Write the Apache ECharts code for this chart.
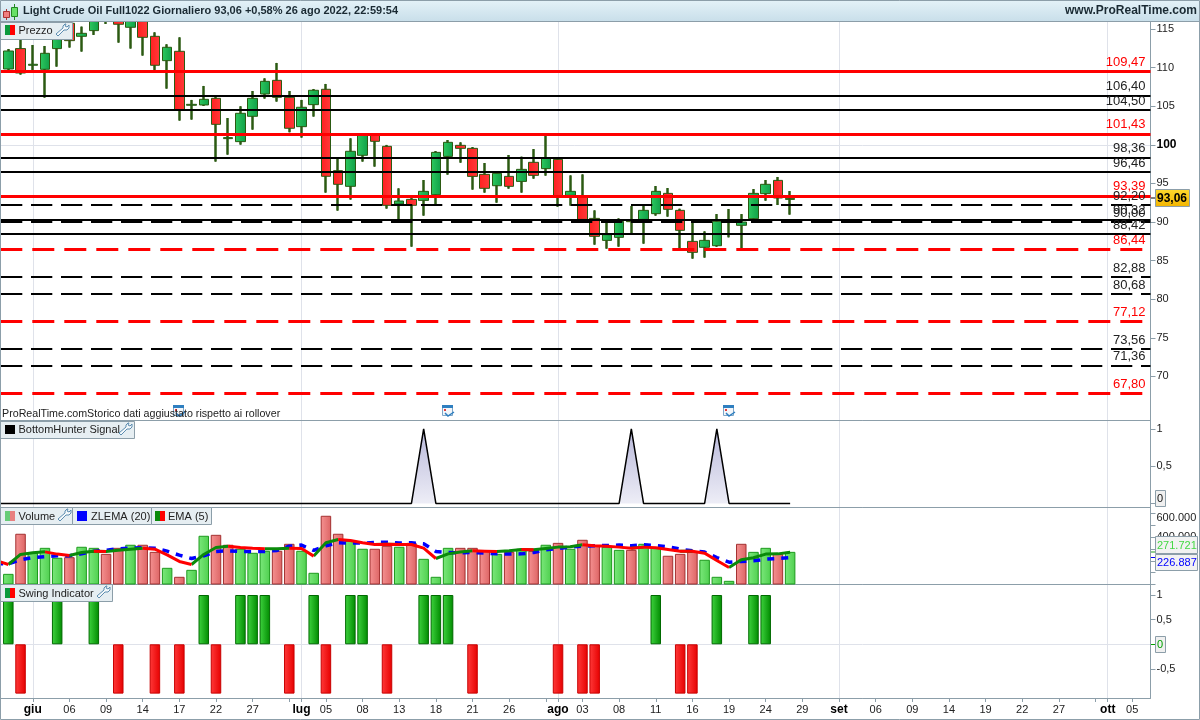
<!DOCTYPE html>
<html>
<head>
<meta charset="utf-8">
<title>Light Crude Oil</title>
<script src="https://cdn.jsdelivr.net/npm/echarts@6/dist/echarts.min.js"></script>
<style>
  html, body { margin: 0; padding: 0; background: #fff; }
  #chart { width: 1200px; height: 720px; }
</style>
</head>
<body>
<div id="chart"></div>
<script>
// trading days, first one sits just off the left edge
var days = [
  '27/05',
  '30/05','31/05','01/06','02/06','03/06','06/06','07/06','08/06','09/06','10/06',
  '13/06','14/06','15/06','16/06','17/06','20/06','21/06','22/06','23/06','24/06',
  '27/06','28/06','29/06','30/06','01/07','04/07','05/07','06/07','07/07','08/07',
  '11/07','12/07','13/07','14/07','15/07','18/07','19/07','20/07','21/07','22/07',
  '25/07','26/07','27/07','28/07','29/07','01/08','02/08','03/08','04/08','05/08',
  '08/08','09/08','10/08','11/08','12/08','15/08','16/08','17/08','18/08','19/08',
  '22/08','23/08','24/08','25/08','26/08','29/08','30/08','31/08','01/09','02/09',
  '05/09','06/09','07/09','08/09','09/09','12/09','13/09','14/09','15/09','16/09',
  '19/09','20/09','21/09','22/09','23/09','26/09','27/09','28/09','29/09','30/09',
  '03/10','04/10','05/10','06/10'
];
var tickDays = ['01/06','06/06','09/06','14/06','17/06','22/06','27/06','30/06','01/07','05/07','08/07','13/07','18/07','21/07','26/07','29/07','01/08','03/08','08/08','11/08','16/08','19/08','24/08','29/08','01/09','06/09','09/09','14/09','19/09','22/09','27/09','30/09','03/10','05/10'];
var tickNames = ['giu','06','09','14','17','22','27','','lug','05','08','13','18','21','26','','ago','03','08','11','16','19','24','29','set','06','09','14','19','22','27','','ott','05'];
var monthDays = ['01/06','01/07','01/08','01/09','03/10'];

// open, close, low, high
var candles = [
  [109.82,112.15,109.69,112.41],[112.46,109.30,109.09,113.79],[110.30,110.43,109.61,112.93],[109.78,111.85,106.11,112.80],
  [112.46,114.10,110.12,115.74],[115.74,113.49,112.59,116.17],[114.05,114.44,112.07,115.31],[114.79,116.60,114.23,117.03],
  [116.17,116.39,115.65,117.46],[116.60,115.61,113.23,117.46],[115.22,116.60,112.46,117.03],[116.17,113.92,111.55,116.39],
  [114.05,110.30,109.69,114.57],[110.90,112.63,107.27,113.02],[112.11,104.47,103.13,113.92],[105.12,105.24,103.26,105.81],
  [105.16,105.89,105.03,107.62],[106.02,102.65,97.82,106.19],[100.80,100.93,98.72,103.47],[100.41,104.08,100.02,104.99],
  [103.69,106.02,101.96,106.97],[106.58,108.22,105.98,108.61],[108.35,106.15,105.59,110.60],[106.15,102.14,101.62,106.97],
  [102.35,104.86,100.93,105.81],[105.20,107.06,103.65,107.23],[107.19,95.92,93.80,107.88],[96.65,94.88,91.47,98.38],
  [94.62,99.16,92.90,100.84],[98.64,101.23,97.82,101.49],[101.23,100.45,97.17,101.49],[99.80,92.16,91.73,99.98],
  [92.33,92.72,90.26,94.36],[92.93,92.16,86.80,93.19],[92.80,93.97,90.82,95.44],[93.54,99.02,92.29,99.19],
  [98.50,100.32,96.13,100.62],[99.93,99.54,97.68,100.32],[99.54,95.91,94.19,99.71],[96.17,94.36,93.80,97.64],
  [94.70,96.30,92.50,96.30],[95.91,94.62,94.32,98.68],[95.26,96.82,93.80,98.46],[97.73,96.04,95.61,99.45],
  [96.91,98.24,96.00,101.35],[98.11,93.28,91.98,98.37],[93.45,93.97,92.11,96.04],[93.19,90.34,90.20,96.17],
  [90.47,88.14,87.06,91.51],[87.62,88.36,86.54,89.95],[88.01,90.08,86.80,90.47],[90.13,90.04,88.53,92.07],
  [90.34,91.51,87.19,92.07],[91.08,93.97,90.82,94.66],[93.71,91.64,90.69,94.40],[91.51,88.92,86.33,91.72],
  [87.49,86.07,85.25,89.91],[86.72,87.62,85.38,88.79],[86.93,90.08,86.80,91.03],[90.04,90.13,88.01,91.68],
  [89.57,90.00,86.33,91.03],[90.43,93.71,90.34,94.27],[93.67,94.88,92.76,95.44],[95.39,93.11,92.20,95.83],
  [92.93,93.06,90.95,94.01]
];

var levelsRed = [109.47, 101.43, 93.39];
var levelsBlack = [106.40, 104.50, 98.36, 96.46, 90.32, 88.42];
var levelsBlackDash = [92.20, 90.00, 82.88, 80.68, 73.56, 71.36];
var levelsRedDash = [86.44, 77.12, 67.80];

var hunter = [0,0,0,0,0,0,0,0,0,0,0,0,0,0,0,0,0,0,0,0,0,0,0,0,0,0,0,0,0,0,0,0,0,0,0,1,0,0,0,0,0,0,0,0,0,0,0,0,0,0,0,0,1,0,0,0,0,0,0,1,0,0,0,0,0,0];

var volume = [null,90000,429000,274000,310000,226000,231000,319000,310000,259000,310000,336000,336000,276000,141000,65000,124000,412000,420000,336000,302000,268000,285000,285000,344000,285000,99000,581000,429000,369000,302000,302000,327000,319000,352000,217000,65000,310000,310000,310000,290000,259000,276000,302000,285000,336000,352000,302000,378000,327000,319000,293000,293000,344000,310000,243000,259000,276000,209000,65000,31000,344000,276000,310000,259000,276000];
// 1 = green bar, 0 = red bar
var volumeUp = [1,1,0,1,1,1,0,1,1,0,0,1,0,0,1,0,1,1,0,0,1,1,1,0,0,1,1,0,0,1,1,0,0,1,0,1,1,1,0,0,0,1,0,1,0,1,0,1,0,0,1,1,0,1,1,0,0,0,1,1,1,0,1,1,0,1];

var ema = [203000,169000,254000,268000,276000,257000,245000,271000,282000,279000,290000,299000,307000,299000,251000,195000,169000,254000,313000,324000,313000,307000,302000,302000,307000,305000,240000,353000,381000,372000,353000,338000,341000,338000,338000,307000,220000,259000,274000,285000,282000,279000,285000,296000,293000,305000,316000,319000,336000,327000,324000,316000,307000,316000,310000,296000,282000,282000,265000,203000,144000,209000,226000,257000,259000,271721];
var zlema = [175000,175000,209000,228000,234000,243000,243000,259000,282000,290000,302000,307000,310000,307000,282000,248000,220000,243000,279000,285000,279000,279000,279000,288000,324000,333000,288000,327000,353000,350000,350000,355000,358000,350000,353000,344000,279000,271000,268000,271000,265000,259000,257000,259000,271000,293000,305000,316000,324000,327000,330000,333000,327000,336000,330000,319000,299000,285000,274000,228000,189000,195000,200000,214000,220000,226887];

var swing = [0,1,-1,0,0,1,0,0,1,0,-1,0,0,-1,0,-1,0,1,-1,0,1,1,1,0,-1,0,1,-1,0,1,1,0,-1,0,0,1,1,1,0,-1,0,0,0,0,0,0,-1,0,-1,-1,0,0,0,0,1,0,-1,-1,0,1,0,0,1,1,0,0];

var priceTicks = [70,75,80,85,90,95,100,105,110,115];
var hunterTicks = [0,0.5,1];
var volumeTicks = [0,100000,200000,300000,400000,500000,600000];
var volumeLabels = [400000,600000];
var swingTicks = [-0.5,0,0.5,1];

var FONT = '"Liberation Sans", Arial, sans-serif';
var GRAY = '#8c9ea9';
var WICK = '#2b5a12';
var hGrad = function (a, b) {
  return new echarts.graphic.LinearGradient(0, 0, 1, 0, [{ offset: 0, color: a }, { offset: 1, color: b }]);
};
var comma = function (v) { return String(v).replace('.', ','); };

var grids = [
  { left: -10, width: 1160.5, top: 21.5, height: 399, outerBoundsMode: 'none' },
  { left: -10, width: 1160.5, top: 420.5, height: 87, outerBoundsMode: 'none' },
  { left: -10, width: 1160.5, top: 507.5, height: 77, outerBoundsMode: 'none' },
  { left: -10, width: 1160.5, top: 584.5, height: 113.5, outerBoundsMode: 'none' }
];

function xAxisFor(i) {
  var last = i === 3;
  return {
    type: 'category', gridIndex: i, data: days, boundaryGap: true,
    axisLine: { onZero: false, lineStyle: { color: GRAY, width: 1 } },
    axisTick: {
      show: last, alignWithLabel: true, length: 4, lineStyle: { color: GRAY },
      interval: function (idx, val) { return tickDays.indexOf(val) >= 0; }
    },
    axisLabel: {
      show: last, margin: 6, color: '#222', fontFamily: FONT, fontSize: 11, hideOverlap: false,
      interval: function (idx, val) { return tickNames[tickDays.indexOf(val)] ? true : false; },
      formatter: function (val) {
        var k = tickDays.indexOf(val);
        return monthDays.indexOf(val) >= 0 ? '{m|' + tickNames[k] + '}' : tickNames[k];
      },
      rich: { m: { fontWeight: 'bold', fontSize: 12, fontFamily: FONT, color: '#000' } }
    },
    splitLine: { show: false }
  };
}

function yAxisFor(i, min, max, ticks, labels, fmt) {
  return {
    type: 'value', gridIndex: i, position: 'right', min: min, max: max,
    axisLine: { show: true, lineStyle: { color: GRAY, width: 1 } },
    axisTick: { show: true, length: 5, customValues: ticks, lineStyle: { color: GRAY } },
    axisLabel: {
      margin: 6, color: '#222', fontFamily: FONT, fontSize: 11, customValues: labels, formatter: fmt,
      showMinLabel: true, showMaxLabel: true,
      rich: {
        b: { fontWeight: 'bold', fontSize: 12, fontFamily: FONT, color: '#000' },
        low: { padding: [8, 0, 0, 0], fontSize: 11, fontFamily: FONT, color: '#222' }
      }
    },
    splitLine: { show: false }
  };
}

// light vertical month lines (and one horizontal rule), behind everything
function rulesFor(i, hValue) {
  var data = monthDays.map(function (d) { return { xAxis: days.indexOf(d) }; });
  if (hValue !== null) data.push({ yAxis: hValue });
  return {
    type: 'line', xAxisIndex: i, yAxisIndex: i, data: [], z: 0, silent: true,
    markLine: { z: 0, silent: true, symbol: 'none', animation: false, label: { show: false }, lineStyle: { color: '#dfe2ea', width: 1, type: 'solid' }, data: data }
  };
}

function levelLine(values, color, width, dash, offset) {
  var series = {
    type: 'line', xAxisIndex: 0, yAxisIndex: 0, data: [], z: 5, silent: true,
    markLine: {
      silent: true, symbol: 'none', animation: false,
      lineStyle: { color: color, width: width, type: dash, dashOffset: offset, cap: 'butt' },
      label: {
        show: true, position: 'insideEndTop', distance: [5, 2.5], color: color === '#000' ? '#222' : color,
        fontFamily: FONT, fontSize: 13,
        formatter: function (p) { return p.value.toFixed(2).replace('.', ','); }
      },
      data: values.map(function (v) { return { yAxis: v }; })
    }
  };
  return series;
}

var candleData = [['-', '-', '-', '-']].concat(candles);

// ema is green on rising stretches, red on falling ones
var emaRise = ema.map(function () { return null; });
var emaFall = ema.map(function () { return null; });
for (var n = 1; n < ema.length; n++) {
  var target = ema[n] >= ema[n - 1] ? emaRise : emaFall;
  target[n - 1] = ema[n - 1];
  target[n] = ema[n];
}

var greenBar = hGrad('#7be87b', '#4fcf4f');
var redBar = hGrad('#f59292', '#dd6464');
var greenSwing = hGrad('#3fd43f', '#008a00');
var redSwing = hGrad('#ff3a3a', '#e60000');

function tab(x, y, w, h) {
  return { type: 'rect', z: 100, shape: { x: x + 0.5, y: y + 0.5, width: w, height: h }, style: { fill: '#e6eef2', stroke: GRAY, lineWidth: 1 } };
}
function swatch(x, y, color) {
  return { type: 'rect', z: 101, shape: { x: x, y: y, width: 5, height: 10 }, style: { fill: color } };
}
function tabText(x, y, text) {
  return { type: 'text', z: 101, x: x, y: y, style: { text: text, fill: '#222', font: '11px ' + FONT, verticalAlign: 'middle' } };
}
function wrench(x, y) {
  var p = [[9, 0], [7, 2], [7, 4], [0, 10], [2, 12], [8, 6], [11, 6], [13, 4], [13, 1], [11, 3], [9, 2], [10, 0]];
  return {
    type: 'polygon', z: 101,
    shape: { points: p.map(function (q) { return [q[0] + x, q[1] + y]; }) },
    style: { fill: '#f4f8fa', stroke: '#5d8db0', lineWidth: 1 }
  };
}
function valueBox(x, y, w, h, text, color, bold, fill) {
  return [
    { type: 'rect', z: 100, shape: { x: x + 0.5, y: y + 0.5, width: w, height: h }, style: { fill: fill, stroke: GRAY, lineWidth: 1 } },
    { type: 'text', z: 101, x: x + 2, y: y + h / 2 + 1, style: { text: text, fill: color, font: (bold ? 'bold 12px ' : '11px ') + FONT, verticalAlign: 'middle' } }
  ];
}
function calendar(x, y) {
  return [
    { type: 'rect', z: 90, shape: { x: x + 0.5, y: y + 1.5, width: 10, height: 9 }, style: { fill: '#f2f6fa', stroke: '#7ea6c8', lineWidth: 1 } },
    { type: 'rect', z: 90, shape: { x: x, y: y, width: 11, height: 3 }, style: { fill: '#2f7fc0' } },
    { type: 'rect', z: 90, shape: { x: x + 2, y: y + 4, width: 2, height: 2 }, style: { fill: '#e23b3b' } },
    { type: 'polyline', z: 90, shape: { points: [[x + 3, y + 8], [x + 6, y + 11], [x + 12, y + 7]] }, style: { fill: 'none', stroke: '#2f7fc0', lineWidth: 1.5 } }
  ];
}

var titleBar = new echarts.graphic.LinearGradient(0, 0, 0, 1, [{ offset: 0, color: '#e4f2f8' }, { offset: 1, color: '#c9dfea' }]);
var goldBox = new echarts.graphic.LinearGradient(0, 0, 0, 1, [{ offset: 0, color: '#ffd92e' }, { offset: 1, color: '#f2b400' }]);

var chrome = [
  { type: 'rect', z: 80, shape: { x: 0, y: 0, width: 1200, height: 21 }, style: { fill: titleBar } },
  { type: 'line', z: 80, shape: { x1: 0, y1: 21.5, x2: 1200, y2: 21.5 }, style: { stroke: GRAY, lineWidth: 1 } },
  // little candle icon
  { type: 'line', z: 81, shape: { x1: 6.5, y1: 9, x2: 6.5, y2: 20 }, style: { stroke: '#a33', lineWidth: 1 } },
  { type: 'rect', z: 81, shape: { x: 3.5, y: 11.5, width: 6, height: 6 }, style: { fill: '#f08080', stroke: '#a33', lineWidth: 1 } },
  { type: 'line', z: 81, shape: { x1: 14.5, y1: 4, x2: 14.5, y2: 20 }, style: { stroke: '#282', lineWidth: 1 } },
  { type: 'rect', z: 81, shape: { x: 11.5, y: 7.5, width: 6, height: 9 }, style: { fill: '#66e066', stroke: '#282', lineWidth: 1 } },
  // outer frame
  { type: 'rect', z: 120, shape: { x: 0.5, y: 0.5, width: 1199, height: 719 }, style: { fill: 'none', stroke: GRAY, lineWidth: 1 } },
  { type: 'text', z: 95, x: 2, y: 414, style: { text: 'ProRealTime.comStorico dati aggiustato rispetto ai rollover', fill: '#222', font: '10.7px ' + FONT, verticalAlign: 'middle' } },
  // tabs
  tab(0, 22, 72, 17), swatch(5, 25, '#0a9a3c'), swatch(10, 25, '#ff0000'), tabText(18.5, 31, 'Prezzo'), wrench(56, 24),
  tab(0, 421, 134, 17), { type: 'rect', z: 101, shape: { x: 5, y: 425, width: 10, height: 9 }, style: { fill: '#000' } }, tabText(18.5, 430, 'BottomHunter Signal'), wrench(119, 423),
  tab(0, 507, 72, 17), swatch(5, 511, '#66cc77'), swatch(10, 511, '#e88080'), tabText(18.5, 517, 'Volume'), wrench(58, 509),
  tab(72, 507, 79, 17), { type: 'rect', z: 101, shape: { x: 77, y: 511, width: 10, height: 10 }, style: { fill: '#0000ff' } }, tabText(91, 517, 'ZLEMA (20)'),
  tab(151, 507, 60, 17), swatch(155, 511, '#0a8a0a'), swatch(160, 511, '#ff0000'), tabText(168, 517, 'EMA (5)'),
  tab(0, 584, 112, 17), swatch(5, 588, '#0a9a3c'), swatch(10, 588, '#ff0000'), tabText(18.5, 594, 'Swing Indicator'), wrench(97, 586),
  // coloured ticks next to the value boxes
  { type: 'line', z: 90, shape: { x1: 1151, y1: 198, x2: 1155, y2: 198 }, style: { stroke: '#000', lineWidth: 1 } },
  { type: 'line', z: 90, shape: { x1: 1151, y1: 552, x2: 1155, y2: 552 }, style: { stroke: '#20a020', lineWidth: 1 } },
  { type: 'line', z: 90, shape: { x1: 1151, y1: 557.5, x2: 1155, y2: 557.5 }, style: { stroke: '#0000ff', lineWidth: 1 } },
  { type: 'line', z: 90, shape: { x1: 1151, y1: 644.5, x2: 1155, y2: 644.5 }, style: { stroke: '#00a000', lineWidth: 1 } }
].concat(
  valueBox(1155, 189, 34, 17, '93,06', '#000', true, goldBox),
  valueBox(1155, 490, 10, 16, '0', '#111', false, '#f0f0f0'),
  valueBox(1155, 536, 42, 17, '271.721', '#44d844', false, '#f2f2f2'),
  valueBox(1155, 554, 42, 16, '226.887', '#0000ff', false, '#f2f2f2'),
  valueBox(1155, 636, 10, 16, '0', '#00a000', false, '#f0f0f0'),
  calendar(173, 405), calendar(442, 405), calendar(723, 405)
);

var chart = echarts.init(document.getElementById('chart'), null, { renderer: 'canvas' });
chart.setOption({
  animation: false,
  backgroundColor: '#fff',
  title: [
    { text: 'Light Crude Oil Full1022 Giornaliero 93,06 +0,58% 26 ago 2022, 22:59:54', left: 23, top: 5, padding: 0, z: 85, textStyle: { fontFamily: FONT, fontSize: 11, fontWeight: 'bold', color: '#1a2a33' } },
    { text: 'www.ProRealTime.com', right: 3, top: 5, padding: 0, z: 85, textStyle: { fontFamily: FONT, fontSize: 12, fontWeight: 'bold', color: '#1a2a33' } }
  ],
  grid: grids,
  xAxis: [xAxisFor(0), xAxisFor(1), xAxisFor(2), xAxisFor(3)],
  yAxis: [
    yAxisFor(0, 64.29, 115.97, priceTicks, priceTicks, function (v) { return v === 100 ? '{b|100}' : String(v); }),
    yAxisFor(1, -0.054, 1.114, hunterTicks, [0.5, 1], comma),
    yAxisFor(2, 0, 651000, volumeTicks, volumeLabels, function (v) { return v === 600000 ? '{low|600.000}' : (v / 1000) + '.000'; }),
    yAxisFor(3, -1.089, 1.213, swingTicks, [-0.5, 0.5, 1], comma)
  ],
  series: [
    rulesFor(0, 100), rulesFor(1, null), rulesFor(2, null), rulesFor(3, 0),
    // thick wicks under the thin-bordered bodies
    {
      type: 'candlestick', name: 'wick', xAxisIndex: 0, yAxisIndex: 0, z: 2, barWidth: 1, data: candleData,
      itemStyle: { color: WICK, color0: WICK, borderColor: WICK, borderColor0: WICK, borderWidth: 2.5 }
    },
    {
      type: 'candlestick', name: 'Prezzo', xAxisIndex: 0, yAxisIndex: 0, z: 3, barWidth: 10, data: candleData,
      itemStyle: { color: hGrad('#2ec95f', '#0f9f48'), color0: hGrad('#ff2020', '#ff3a3a'), borderColor: WICK, borderColor0: WICK, borderWidth: 1 }
    },
    levelLine(levelsBlack, '#000', 2, 'solid', 0),
    levelLine(levelsBlackDash, '#000', 2, [21.3, 8.7], 19),
    levelLine(levelsRed, '#ff0000', 3, 'solid', 0),
    levelLine(levelsRedDash, '#ff0000', 3, [22, 10], 21.7),
    {
      type: 'line', name: 'BottomHunter', xAxisIndex: 1, yAxisIndex: 1, z: 3, data: hunter, symbol: 'none',
      lineStyle: { color: '#000', width: 1.5 },
      areaStyle: {
        origin: 0,
        color: new echarts.graphic.LinearGradient(0, 0, 0, 1, [{ offset: 0, color: '#9a9aca' }, { offset: 1, color: '#e6e6f3' }])
      }
    },
    {
      type: 'bar', name: 'Volume', xAxisIndex: 2, yAxisIndex: 2, z: 2, barWidth: 10.5,
      data: volume.map(function (v, k) {
        return {
          value: v,
          itemStyle: volumeUp[k]
            ? { color: greenBar, borderColor: '#1d9a1d', borderWidth: 1 }
            : { color: redBar, borderColor: '#a33030', borderWidth: 1 }
        };
      })
    },
    {
      type: 'line', name: 'ZLEMA (20)', xAxisIndex: 2, yAxisIndex: 2, z: 3, data: zlema, symbol: 'none',
      lineStyle: { color: '#0000ff', width: 3.5, type: [7, 7] }
    },
    {
      type: 'line', name: 'EMA (5) rise', xAxisIndex: 2, yAxisIndex: 2, z: 4, data: emaRise, symbol: 'none', connectNulls: false,
      lineStyle: { color: '#0a8a0a', width: 3 }
    },
    {
      type: 'line', name: 'EMA (5) fall', xAxisIndex: 2, yAxisIndex: 2, z: 4, data: emaFall, symbol: 'none', connectNulls: false,
      lineStyle: { color: '#ff0000', width: 3 }
    },
    {
      type: 'bar', name: 'Swing Indicator', xAxisIndex: 3, yAxisIndex: 3, z: 2, barWidth: 10.5,
      data: swing.map(function (v) {
        return {
          value: v === 0 ? null : v,
          itemStyle: v > 0
            ? { color: greenSwing, borderColor: '#006a00', borderWidth: 1 }
            : { color: redSwing, borderColor: '#c80000', borderWidth: 1 }
        };
      })
    }
  ],
  graphic: { elements: chrome }
});
</script>
</body>
</html>
